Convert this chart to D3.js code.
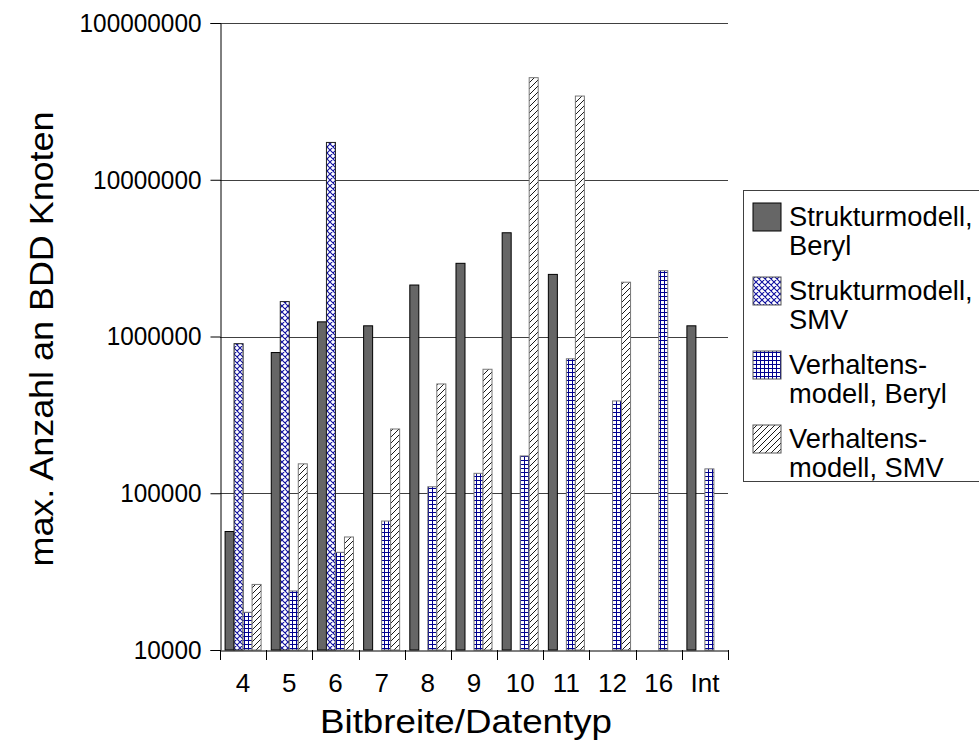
<!DOCTYPE html>
<html>
<head>
<meta charset="utf-8">
<script src="https://cdn.jsdelivr.net/npm/d3@7/dist/d3.min.js"></script>
<style>
  html, body { margin: 0; padding: 0; background: #fff; }
  svg { display: block; font-family: "Liberation Sans", Arial, sans-serif; }
</style>
</head>
<body>
<svg id="chart" width="979" height="742"></svg>
<script>
// ---- data ----
const categories = ["4", "5", "6", "7", "8", "9", "10", "11", "12", "16", "Int"];
const seriesNames = ["Strukturmodell, Beryl", "Strukturmodell, SMV", "Verhaltensmodell, Beryl", "Verhaltensmodell, SMV"];
const legendLines = [["Strukturmodell,", "Beryl"], ["Strukturmodell,", "SMV"], ["Verhaltens-", "modell, Beryl"], ["Verhaltens-", "modell, SMV"]];
const strukturBeryl   = [57000, 790000, 1240000, 1170000, 2130000, 2930000, 4590000, 2490000, null, null, 1170000];
const strukturSMV     = [900000, 1670000, 17300000, null, null, null, null, null, null, null, null];
const verhaltensBeryl = [17400, 23800, 42000, 66500, 110000, 134000, 173000, 721000, 388000, 2630000, 143000];
const verhaltensSMV   = [26200, 154000, 52600, 257000, 498000, 618000, 44800000, 34200000, 2220000, null, null];
const yTicks = [10000, 100000, 1000000, 10000000, 100000000];
const yTitle = "max. Anzahl an BDD Knoten";
const xTitle = "Bitbreite/Datentyp";

const seriesValues = [strukturBeryl, strukturSMV, verhaltensBeryl, verhaltensSMV];

// ---- layout ----
const svg = d3.select("#chart");
const plotLeft = 220, plotRight = 728, plotTop = 23, plotBottom = 650;

const defs = svg.append("defs");
// cross-hatch (blue)
const pc = defs.append("pattern").attr("id", "pCross").attr("patternUnits", "userSpaceOnUse")
  .attr("width", 6).attr("height", 6);
pc.append("rect").attr("width", 6).attr("height", 6).attr("fill", "#fff");
pc.append("path").attr("d", "M0,0L6,6M6,0L0,6M-1,5L1,7M5,-1L7,1M-1,1L1,-1M5,7L7,5")
  .attr("stroke", "#1010a0").attr("stroke-width", 1.1).attr("fill", "none");
// grid (blue)
const pg = defs.append("pattern").attr("id", "pGrid").attr("patternUnits", "userSpaceOnUse")
  .attr("width", 4).attr("height", 4);
pg.append("rect").attr("width", 4).attr("height", 4).attr("fill", "#fff");
pg.append("path").attr("d", "M0,0.5H4M0.5,0V4")
  .attr("stroke", "#000090").attr("stroke-width", 1).attr("fill", "none");
// diagonal hatch (black)
const ph = defs.append("pattern").attr("id", "pHatch").attr("patternUnits", "userSpaceOnUse")
  .attr("width", 6).attr("height", 6);
ph.append("rect").attr("width", 6).attr("height", 6).attr("fill", "#fff");
ph.append("path").attr("d", "M0,6L6,0M-1,1L1,-1M5,7L7,5")
  .attr("stroke", "#000").attr("stroke-width", 0.9).attr("fill", "none");

const fills = ["#666666", "url(#pCross)", "url(#pGrid)", "url(#pHatch)"];
const strokes = ["#000", "#222", "#777", "#777"];

const x = d3.scaleBand().domain(categories).range([plotLeft, plotRight]).paddingInner(0).paddingOuter(0);
const bw = x.bandwidth();
const xs = d3.scaleBand().domain(d3.range(4)).range([bw * 0.11, bw * 0.89]);
const y = d3.scaleLog().domain([1e4, 1e8]).range([plotBottom, plotTop]);

// gridlines
svg.append("g").selectAll("line").data(yTicks.slice(1)).join("line")
  .attr("x1", plotLeft).attr("x2", plotRight)
  .attr("y1", d => Math.round(y(d)) + 0.5).attr("y2", d => Math.round(y(d)) + 0.5)
  .attr("stroke", "#404040").attr("stroke-width", 1);

// bars
seriesValues.forEach((vals, si) => {
  svg.append("g").selectAll("rect")
    .data(categories.map((c, i) => ({ c, v: vals[i] })).filter(d => d.v != null))
    .join("rect")
    .attr("x", d => x(d.c) + xs(si))
    .attr("y", d => y(d.v))
    .attr("width", xs.bandwidth())
    .attr("height", d => y(1e4) - y(d.v))
    .attr("fill", fills[si])
    .attr("stroke", strokes[si])
    .attr("stroke-width", 1);
});

// y axis
const yAxis = d3.axisLeft(y).tickValues(yTicks).tickFormat(d3.format("d")).tickSize(10).tickPadding(9);
const gy = svg.append("g").attr("transform", `translate(${plotLeft + 0.5},0)`).call(yAxis);
gy.select(".domain").attr("stroke", "#000");
gy.selectAll(".tick line").attr("stroke", "#000");
gy.selectAll(".tick text").attr("font-size", 26.5).attr("fill", "#000")
  .attr("font-family", "'Liberation Sans', Arial, sans-serif")
  .attr("textLength", d => String(d).length * 13.55).attr("lengthAdjust", "spacingAndGlyphs");

// x axis
const xAxis = d3.axisBottom(x).tickSize(0).tickPadding(23);
const gx = svg.append("g").attr("transform", `translate(0,${plotBottom + 0.5})`).call(xAxis);
gx.select(".domain").attr("stroke", "#000");
gx.selectAll(".tick text").attr("font-size", 26).attr("fill", "#000")
  .attr("font-family", "'Liberation Sans', Arial, sans-serif");
// category separator ticks
svg.append("g").selectAll("line").data(categories).join("line")
  .attr("x1", d => Math.round(x(d)) + 0.5).attr("x2", d => Math.round(x(d)) + 0.5)
  .attr("y1", plotBottom).attr("y2", plotBottom + 10)
  .attr("stroke", "#000");
svg.append("line").attr("x1", plotRight + 0.5).attr("x2", plotRight + 0.5)
  .attr("y1", plotBottom).attr("y2", plotBottom + 10).attr("stroke", "#000");

// axis titles
svg.append("text").attr("x", 466).attr("y", 733).attr("text-anchor", "middle")
  .attr("font-size", 34).attr("textLength", 292).attr("lengthAdjust", "spacingAndGlyphs")
  .text(xTitle);
svg.append("text").attr("transform", "translate(53,339) rotate(-90)").attr("text-anchor", "middle")
  .attr("font-size", 34).attr("textLength", 455).attr("lengthAdjust", "spacingAndGlyphs")
  .text(yTitle);

// legend
const lg = svg.append("g");
lg.append("rect").attr("x", 743.5).attr("y", 190.5).attr("width", 250).attr("height", 291)
  .attr("fill", "#fff").attr("stroke", "#404040");
seriesNames.forEach((name, i) => {
  const ty = 203 + i * 74;
  lg.append("rect").attr("x", 753).attr("y", ty).attr("width", 28).attr("height", 28)
    .attr("fill", fills[i]).attr("stroke", i === 0 ? "#000" : "#555");
  legendLines[i].forEach((ln, j) => {
    lg.append("text").attr("x", 789).attr("y", ty + 23 + j * 29)
      .attr("font-size", 27.3).attr("fill", "#000").text(ln);
  });
});
</script>
</body>
</html>
